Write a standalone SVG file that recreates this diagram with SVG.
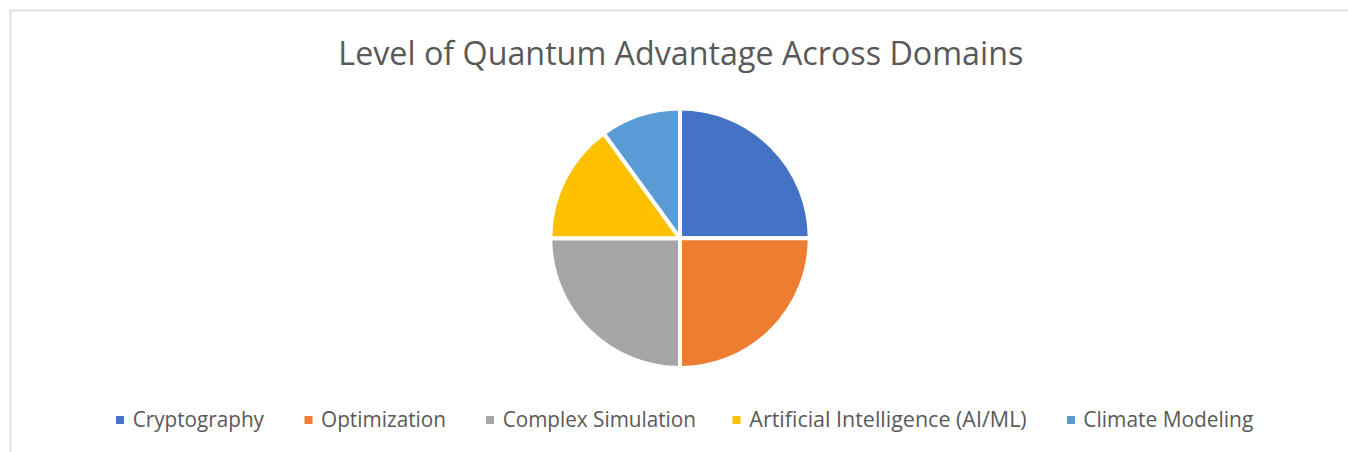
<svg xmlns="http://www.w3.org/2000/svg" width="1348" height="452" viewBox="0 0 1348 452">
  <style>
    .title { font-family: "Open Sans", "Liberation Sans", sans-serif; font-size: 32px; fill: #595959; }
    .leg { font-family: "Open Sans", "Liberation Sans", sans-serif; font-size: 21.5px; fill: #595959; }
    .slice { stroke: #ffffff; stroke-width: 4; stroke-linejoin: round; }
  </style>
  <rect x="0" y="0" width="1348" height="452" fill="#ffffff"/>
  <rect x="10.5" y="10.5" width="1400" height="500" fill="#ffffff" stroke="#d9d9d9" stroke-width="1.5"/>
  <text class="title" x="338.3" y="65" textLength="685" lengthAdjust="spacingAndGlyphs">Level of Quantum Advantage Across Domains</text>

  <g id="connectors"></g>

  <g id="pie">
    <g id="slice-cryptography">
      <path class="slice" fill="#4472C4" d="M680,238.3 L680,108.6 A129.7,129.7 0 0 1 809.7,238.3 Z"/>
    </g>
    <g id="slice-optimization">
      <path class="slice" fill="#ED7D31" d="M680,238.3 L809.7,238.3 A129.7,129.7 0 0 1 680,368 Z"/>
    </g>
    <g id="slice-complex-simulation">
      <path class="slice" fill="#A5A5A5" d="M680,238.3 L680,368 A129.7,129.7 0 0 1 550.3,238.3 Z"/>
    </g>
    <g id="slice-ai">
      <path class="slice" fill="#FFC000" d="M680,238.3 L550.3,238.3 A129.7,129.7 0 0 1 603.76,133.37 Z"/>
    </g>
    <g id="slice-climate">
      <path class="slice" fill="#5B9BD5" d="M680,238.3 L603.76,133.37 A129.7,129.7 0 0 1 680,108.6 Z"/>
    </g>
  </g>

  <g id="legend">
    <g id="legend-cryptography">
      <rect x="116" y="416" width="8" height="8" fill="#4472C4"/>
      <text class="leg" x="132.7" y="427.3" textLength="131.3" lengthAdjust="spacingAndGlyphs">Cryptography</text>
    </g>
    <g id="legend-optimization">
      <rect x="304.5" y="416" width="8" height="8" fill="#ED7D31"/>
      <text class="leg" x="321" y="427.3" textLength="125" lengthAdjust="spacingAndGlyphs">Optimization</text>
    </g>
    <g id="legend-complex-simulation">
      <rect x="486" y="416" width="8" height="8" fill="#A5A5A5"/>
      <text class="leg" x="502.7" y="427.3" textLength="193.3" lengthAdjust="spacingAndGlyphs">Complex Simulation</text>
    </g>
    <g id="legend-ai">
      <rect x="732.5" y="416" width="8" height="8" fill="#FFC000"/>
      <text class="leg" x="749.3" y="427.3" textLength="277.4" lengthAdjust="spacingAndGlyphs">Artificial Intelligence (AI/ML)</text>
    </g>
    <g id="legend-climate">
      <rect x="1067" y="416" width="8" height="8" fill="#5B9BD5"/>
      <text class="leg" x="1083.3" y="427.3" textLength="170" lengthAdjust="spacingAndGlyphs">Climate Modeling</text>
    </g>
  </g>
</svg>
